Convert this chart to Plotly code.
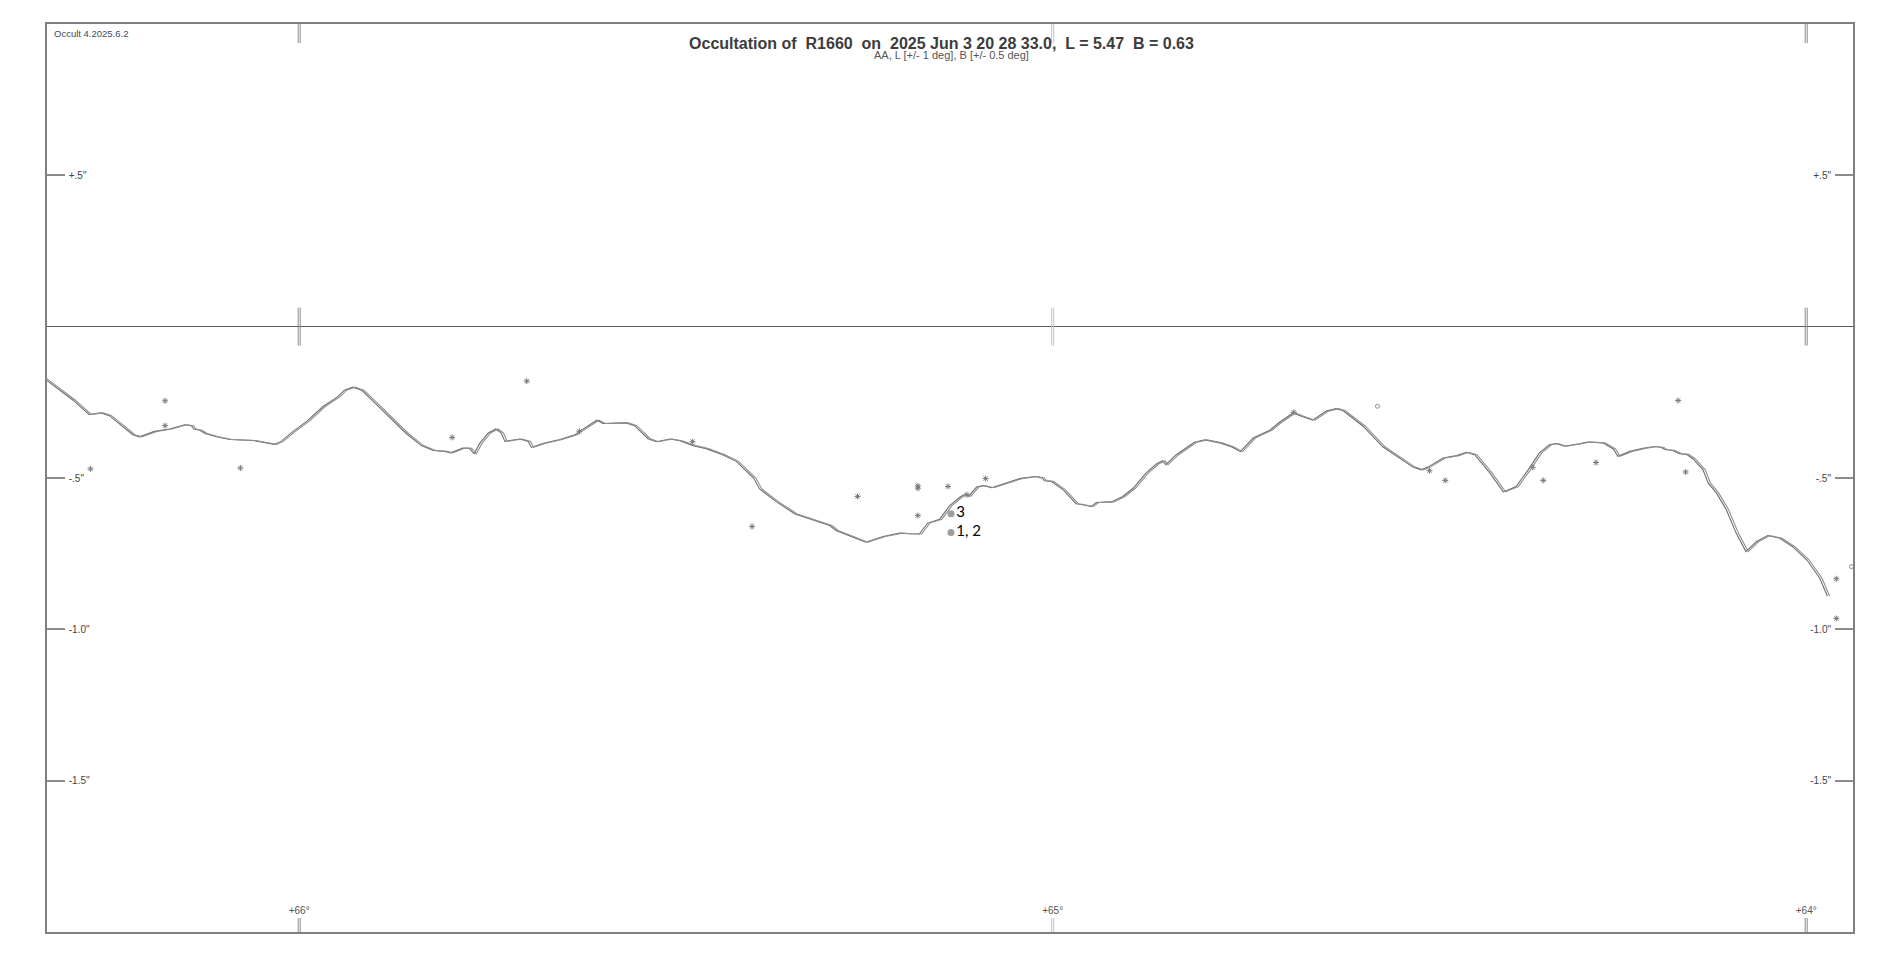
import plotly.graph_objects as go

# ---------------- data ----------------
# Limb profile: axis angle (deg) vs height (arcsec)
PROFILE_L = [66.338, 66.313, 66.300, 66.279, 66.263, 66.252, 66.234, 66.221, 66.212, 66.192,
             66.172, 66.152, 66.143, 66.140, 66.132, 66.125, 66.110, 66.092, 66.061, 66.044,
             66.033, 66.024, 66.008, 65.990, 65.968, 65.949, 65.940, 65.929, 65.917, 65.902,
             65.880, 65.858, 65.838, 65.822, 65.807, 65.799, 65.783, 65.774, 65.768, 65.760,
             65.749, 65.739, 65.732, 65.727, 65.707, 65.696, 65.692, 65.677, 65.654, 65.634,
             65.628, 65.617, 65.605, 65.597, 65.566, 65.555, 65.537, 65.526, 65.508, 65.495,
             65.477, 65.460, 65.438, 65.420, 65.407, 65.397, 65.389, 65.367, 65.342, 65.318,
             65.296, 65.287, 65.269, 65.248, 65.225, 65.203, 65.190, 65.177, 65.166, 65.150,
             65.137, 65.123, 65.116, 65.112, 65.101, 65.093, 65.081, 65.066, 65.044, 65.024,
             65.014, 65.011, 65.002, 64.986, 64.969, 64.964, 64.949, 64.942, 64.922, 64.907,
             64.893, 64.876, 64.862, 64.854, 64.850, 64.836, 64.812, 64.798, 64.778, 64.763,
             64.751, 64.734, 64.712, 64.699, 64.681, 64.670, 64.655, 64.637, 64.624, 64.615,
             64.588, 64.562, 64.548, 64.522, 64.511, 64.502, 64.482, 64.464, 64.451, 64.440,
             64.420, 64.402, 64.385, 64.369, 64.354, 64.341, 64.332, 64.321, 64.301, 64.290,
             64.270, 64.256, 64.250, 64.234, 64.217, 64.201, 64.192, 64.188, 64.177, 64.168,
             64.159, 64.150, 64.137, 64.130, 64.119, 64.106, 64.093, 64.080, 64.066, 64.051,
             64.035, 64.018, 63.999, 63.982, 63.972]
PROFILE_H = [-0.172, -0.219, -0.243, -0.290, -0.285, -0.294, -0.329, -0.357, -0.364, -0.346,
             -0.338, -0.324, -0.327, -0.338, -0.342, -0.353, -0.364, -0.373, -0.376, -0.384,
             -0.389, -0.379, -0.346, -0.313, -0.263, -0.232, -0.210, -0.200, -0.210, -0.246,
             -0.301, -0.353, -0.393, -0.409, -0.412, -0.417, -0.401, -0.402, -0.420, -0.384,
             -0.351, -0.338, -0.351, -0.379, -0.371, -0.379, -0.399, -0.386, -0.373, -0.357,
             -0.346, -0.327, -0.309, -0.320, -0.318, -0.327, -0.370, -0.380, -0.371, -0.377,
             -0.393, -0.403, -0.423, -0.445, -0.475, -0.500, -0.536, -0.578, -0.619, -0.638,
             -0.657, -0.674, -0.691, -0.712, -0.693, -0.682, -0.684, -0.685, -0.649, -0.636,
             -0.592, -0.563, -0.553, -0.561, -0.530, -0.525, -0.532, -0.519, -0.502, -0.495,
             -0.500, -0.509, -0.511, -0.539, -0.585, -0.587, -0.594, -0.581, -0.579, -0.561,
             -0.533, -0.483, -0.453, -0.443, -0.456, -0.423, -0.382, -0.374, -0.384, -0.397,
             -0.413, -0.368, -0.342, -0.316, -0.285, -0.296, -0.309, -0.279, -0.271, -0.277,
             -0.329, -0.397, -0.421, -0.464, -0.473, -0.464, -0.434, -0.426, -0.415, -0.423,
             -0.483, -0.546, -0.528, -0.473, -0.417, -0.390, -0.386, -0.395, -0.387, -0.381,
             -0.384, -0.404, -0.428, -0.412, -0.402, -0.396, -0.399, -0.406, -0.409, -0.420,
             -0.422, -0.437, -0.473, -0.517, -0.550, -0.605, -0.682, -0.743, -0.710, -0.690,
             -0.699, -0.727, -0.771, -0.831, -0.890]

# small event markers
STAR_L = [66.178, 66.178, 66.277, 66.078, 65.797, 65.698, 65.628, 65.478, 65.399, 65.259,
          65.179, 65.179, 65.139, 65.089, 65.179, 65.114, 64.680, 64.500, 64.479, 64.349,
          64.279, 64.363, 64.170, 64.160, 63.960, 63.960]
STAR_H = [-0.245, -0.327, -0.470, -0.467, -0.366, -0.180, -0.346, -0.380, -0.660, -0.561,
          -0.526, -0.534, -0.528, -0.502, -0.624, -0.555, -0.283, -0.476, -0.508, -0.508,
          -0.449, -0.465, -0.244, -0.480, -0.833, -0.964]
RING_L = [64.569, 63.940]
RING_H = [-0.263, -0.793]

# observed events
OBS_L = [65.135, 65.135]
OBS_H = [-0.618, -0.680]
OBS_LABELS = ["3", "1, 2"]

# axes
X_RANGE = [66.3347, 63.9379]
Y_RANGE = [-2.0, 1.0]
X_TICKS = [66, 65, 64]
X_TICK_TEXT = ["+66°", "+65°", "+64°"]
X_TICK_COLORS = ["#8c8c8c", "#c4c4c4", "#8c8c8c"]
Y_TICKS = [0.5, -0.5, -1.0, -1.5]
Y_TICK_TEXT = ['+.5"', '-.5"', '-1.0"', '-1.5"']

NB = "\u00a0"
TITLE = ("Occultation of" + NB + " R1660" + NB + " on" + NB + " 2025 Jun 3 20 28 33.0," + NB +
         " L = 5.47" + NB + " B = 0.63")
SUBTITLE = "AA, L [+/- 1 deg], B [+/- 0.5 deg]"
VERSION = "Occult 4.2025.6.2"

FONT = "Liberation Sans, Arial, sans-serif"
PAGE_PAD = 8                      # default body margin of the html page
W, H = 1901 - 2 * PAGE_PAD, 956 - 2 * PAGE_PAD
ML, MR, MT, MB = 39, 40, 16, 16
PLOT_W = W - ML - MR
PLOT_H = H - MT - MB


def px_x(page_x):
    return (page_x - PAGE_PAD - ML) / PLOT_W


def px_y(page_y):
    return 1 - (page_y - PAGE_PAD - MT) / PLOT_H


fig = go.Figure()

# profile drawn twice, slightly offset (double-line look)
fig.add_trace(go.Scatter(x=PROFILE_L, y=PROFILE_H, mode="lines",
                         line=dict(color="#6e6e6e", width=1.1), hoverinfo="skip"))
fig.add_trace(go.Scatter(x=PROFILE_L, y=PROFILE_H, mode="lines", xaxis="x2",
                         line=dict(color="#8e8e8e", width=1.1), hoverinfo="skip"))

fig.add_trace(go.Scatter(x=STAR_L, y=STAR_H, mode="markers", yaxis="y2",
                         marker=dict(symbol="asterisk-open", size=5, color="#7a7a7a",
                                     line=dict(color="#7a7a7a", width=1))))
fig.add_trace(go.Scatter(x=RING_L, y=RING_H, mode="markers",
                         marker=dict(symbol="circle-open", size=4, color="#8a8a8a",
                                     line=dict(color="#8a8a8a", width=1))))
fig.add_trace(go.Scatter(x=OBS_L, y=OBS_H, mode="markers+text", text=OBS_LABELS,
                         textposition="middle right",
                         textfont=dict(family="Lato, Carlito, sans-serif", size=15, color="#000000"),
                         marker=dict(symbol="circle", size=7, color="#9e9e9e")))

# double-line tick marks at top, at the zero line and at the bottom
shapes = []
for t, col in zip(X_TICKS, X_TICK_COLORS):
    for off in (-1, 1):
        common = dict(type="line", xref="x", xsizemode="pixel", xanchor=t, x0=off, x1=off,
                      line=dict(color=col, width=1), layer="above")
        shapes.append(dict(common, yref="paper", y0=1, y1=1 - 19 / PLOT_H))
        shapes.append(dict(common, yref="y", ysizemode="pixel", yanchor=0, y0=-19, y1=19))
        shapes.append(dict(common, yref="paper", y0=0, y1=14 / PLOT_H))

fig.update_layout(
    width=W, height=H,
    margin=dict(l=ML, r=MR, t=MT, b=MB),
    paper_bgcolor="white", plot_bgcolor="white",
    showlegend=False,
    font=dict(family=FONT, color="#444444"),
    title=dict(text="<b>" + TITLE + "</b>", x=(941.5 - PAGE_PAD) / W, xanchor="center",
               y=1 - (43.5 - PAGE_PAD) / H, yanchor="middle", yref="container",
               font=dict(family=FONT, size=16, color="#3c3c3c")),
    xaxis=dict(range=X_RANGE, showgrid=False, zeroline=False, showline=True, mirror=True,
               linecolor="#808080", linewidth=1.5, tickvals=X_TICKS, ticktext=X_TICK_TEXT,
               ticks="", ticklabelposition="inside", ticklabelstandoff=15,
               tickfont=dict(size=10, color="#555555")),
    xaxis2=dict(range=[X_RANGE[0] + 0.003, X_RANGE[1] + 0.003], overlaying="x", anchor="y",
                visible=False),
    yaxis=dict(range=Y_RANGE, showgrid=False, zeroline=True, zerolinecolor="#5a5a5a",
               zerolinewidth=1.3, showline=True, mirror=True, linecolor="#808080", linewidth=1.5,
               tickvals=Y_TICKS, ticktext=Y_TICK_TEXT, ticks="inside", ticklen=18, tickwidth=2,
               tickcolor="#8c8c8c", ticklabelposition="inside", ticklabelstandoff=3,
               tickfont=dict(size=10, color="#444444")),
    yaxis2=dict(range=Y_RANGE, overlaying="y", anchor="x", side="right", showgrid=False,
                zeroline=False, showline=False, tickvals=Y_TICKS, ticktext=Y_TICK_TEXT,
                ticks="inside", ticklen=18, tickwidth=2, tickcolor="#8c8c8c",
                ticklabelposition="inside", ticklabelstandoff=3,
                tickfont=dict(size=10, color="#444444")),
    shapes=shapes,
    annotations=[
        dict(text=SUBTITLE, xref="paper", yref="paper", x=px_x(951), y=px_y(55),
             xanchor="center", yanchor="middle", showarrow=False,
             font=dict(family=FONT, size=11, color="#555555")),
        dict(text=VERSION, xref="paper", yref="paper", x=px_x(52), y=px_y(33),
             xanchor="left", yanchor="middle", showarrow=False,
             font=dict(family=FONT, size=9.5, color="#3a4a5c")),
    ],
)

fig.write_html("out.html")
